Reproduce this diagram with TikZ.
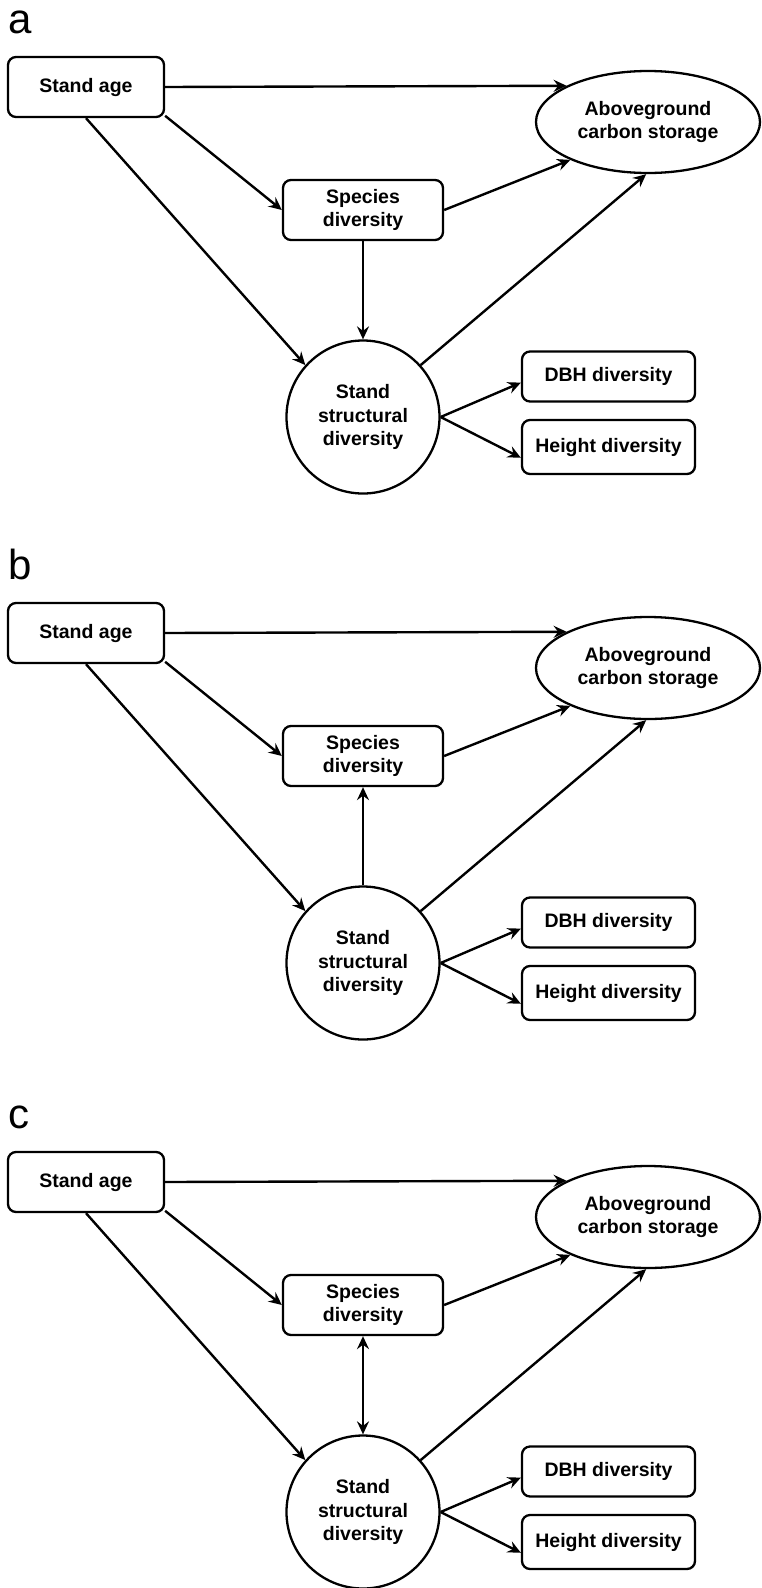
\documentclass[tikz,border=0pt]{standalone}
\usepackage{fontspec}
\setmainfont{Liberation Sans}
\usetikzlibrary{shapes.geometric,arrows.meta}
\tikzset{
  every picture/.style={x=1pt,y=-1pt},
  nodefont/.style={font=\bfseries\fontsize{19.5}{23.5}\selectfont, align=center},
  rbox/.style={nodefont, draw, line width=2.3pt, rounded corners=8pt, inner sep=0pt},
  ellnode/.style={nodefont, draw, ellipse, line width=2.3pt, minimum width=224pt, minimum height=102pt, inner sep=0pt},
  circnode/.style={nodefont, draw, circle, line width=2.3pt, minimum size=153pt, inner sep=0pt},
  conn/.style={line width=2.4pt, -{Stealth[length=13pt,width=12pt,inset=4.5pt]}},
  bothconn/.style={line width=2.4pt, {Stealth[length=13pt,width=12pt,inset=4.5pt]}-{Stealth[length=13pt,width=12pt,inset=4.5pt]}},
  panellabel/.style={font=\fontsize{42}{46}\selectfont, anchor=base west, inner sep=0pt},
}
\newcommand{\mypanel}[3]{%
  \begin{scope}[yshift=-#1pt]
    \node[panellabel] (lab#3) at (8,33) {#3};
    \node[rbox, minimum width=156pt, minimum height=60pt] (sa#3) at (86,87) {Stand age};
    \node[rbox, minimum width=160pt, minimum height=60pt] (sp#3) at (363,210) {Species\\diversity};
    \node[ellnode] (ell#3) at (648,122) {Aboveground\\carbon storage};
    \node[circnode] (ssd#3) at (363,417) {Stand\\structural\\diversity};
    \node[rbox, minimum width=173pt, minimum height=50pt] (dbh#3) at (608.5,376.5) {DBH diversity};
    \node[rbox, minimum width=173pt, minimum height=54pt] (hd#3) at (608.5,447) {Height diversity};
    \draw[conn] (sa#3.east) -- (ell#3.156.8);
    \draw[conn] (sa#3.-20) -- (sp#3.west);
    \draw[conn] (sa#3.south) -- (ssd#3.138);
    \draw[conn] (sp#3.east) -- (ell#3.206);
    \draw[conn] (ssd#3.42.5) -- (ell#3.-92);
    \draw[conn] (ssd#3.east) -- (dbh#3.184);
    \draw[conn] (ssd#3.east) -- (hd#3.187);
    #2
  \end{scope}%
}
\begin{document}
\begin{tikzpicture}
  \useasboundingbox (0,0) rectangle (761,1588);
  \mypanel{0}{\draw[conn] (spa.south) -- (ssda.north);}{a}
  \mypanel{546}{\draw[conn] (ssdb.north) -- (spb.south);}{b}
  \mypanel{1095}{\draw[bothconn] (spc.south) -- (ssdc.north);}{c}
\end{tikzpicture}
\end{document}
